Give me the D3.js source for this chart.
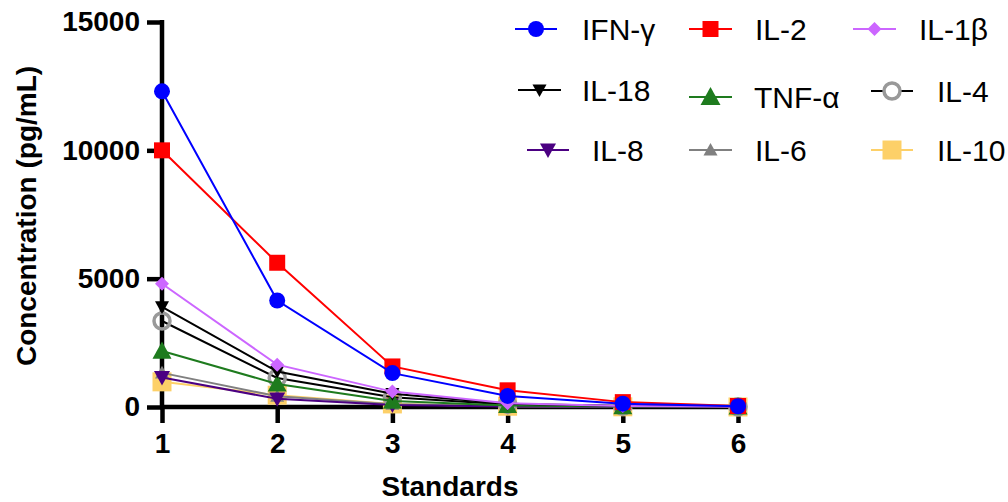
<!DOCTYPE html>
<html><head><meta charset="utf-8">
<script src="https://cdn.jsdelivr.net/npm/d3@7"></script>
<style>
html,body{margin:0;padding:0;background:#fff;}
svg{display:block;font-family:Arial,"Liberation Sans",sans-serif;}
</style></head>
<body><svg id="c" width="1008" height="502"></svg>
<script>
// ---- data ----
const standards = [1, 2, 3, 4, 5, 6];
const yTicks = [0, 5000, 10000, 15000];
const seriesNames = ["IFN-γ", "IL-2", "IL-1β", "IL-18", "TNF-α", "IL-4", "IL-8", "IL-6", "IL-10"];
const ifng = [12300, 4150, 1320, 430, 130, 30];
const il2  = [10000, 5620, 1580, 650, 190, 40];
const il1b = [4800, 1650, 600, 150, 40, 10];
const il18 = [3900, 1380, 520, 130, 35, 10];
const tnfa = [2180, 900, 230, 60, 15, 5];
const il4  = [3350, 1130, 380, 100, 25, 5];
const il8  = [1150, 320, 80, 20, 5, 1];
const il6  = [1330, 420, 110, 30, 8, 2];
const il10 = [980, 460, 120, 30, 8, 2];
const seriesValues = [ifng, il2, il1b, il18, tnfa, il4, il8, il6, il10];

// ---- styles ----
const styles = [
  {line:"#0000ff", shape:"circle", fill:"#0000ff", size:8},
  {line:"#ff0000", shape:"square", fill:"#ff0000", size:8},
  {line:"#cc66ff", shape:"diamond", fill:"#cc66ff", size:7},
  {line:"#000000", shape:"down", fill:"#000000", size:7},
  {line:"#1e7b1e", shape:"up", fill:"#1e7b1e", size:9.5},
  {line:"#000000", shape:"ocircle", fill:"none", stroke:"#999999", size:8},
  {line:"#4b0082", shape:"down", fill:"#4b0082", size:8},
  {line:"#808080", shape:"up", fill:"#808080", size:7},
  {line:"#fdd068", shape:"square", fill:"#fdd068", size:9.5}
];
// legend placement (layout)
const legendPos = [
  [515,557,29,582],[689,732,29,755],[853,896,29,919],
  [518,561,90,582],[689,732,97,754],[871,913,91,937],
  [527,569,150,592],[689,732,150,755],[871,913,150,937]
];

function markerPath(shape, s){
  switch(shape){
    case "circle": case "ocircle":
      return `M${-s},0A${s},${s} 0 1,0 ${s},0A${s},${s} 0 1,0 ${-s},0Z`;
    case "square": return `M${-s},${-s}H${s}V${s}H${-s}Z`;
    case "diamond": return `M0,${-s}L${s},0L0,${s}L${-s},0Z`;
    case "up": return `M0,${-s}L${s},${s*0.8}L${-s},${s*0.8}Z`;
    case "down": return `M0,${s}L${s},${-s*0.8}L${-s},${-s*0.8}Z`;
  }
}

const svg = d3.select("#c");
const x = d3.scaleLinear().domain([1, 6]).range([162, 738]);
const y = d3.scaleLinear().domain([0, 15000]).range([407, 22]);

// axes
const yAxis = d3.axisLeft(y).tickValues(yTicks).tickSize(15).tickSizeOuter(0).tickPadding(7).tickFormat(d3.format("d"));
const xAxis = d3.axisBottom(x).tickValues(standards).tickSize(16).tickSizeOuter(0).tickPadding(10).tickFormat(d3.format("d"));

const gx = svg.append("g").attr("transform", "translate(0,407)").call(xAxis);
const gy = svg.append("g").attr("transform", "translate(162,0)").call(yAxis);
[gx, gy].forEach(g => {
  g.select(".domain").attr("stroke", "#000").attr("stroke-width", 4.5);
  g.selectAll(".tick line").attr("stroke", "#000").attr("stroke-width", 4.5);
  g.selectAll(".tick text").attr("fill", "#000").attr("font-size", 28).attr("font-weight", "bold")
   .attr("font-family", "Arial, 'Liberation Sans', sans-serif");
});
gx.select(".domain").attr("d", "M160,0H745");
gy.select(".domain").attr("d", "M0,20V407");

// titles
svg.append("text").attr("x", 450).attr("y", 496).attr("text-anchor", "middle")
  .attr("font-size", 28).attr("font-weight", "bold").text("Standards");
svg.append("text").attr("transform", "translate(36,216) rotate(-90)").attr("text-anchor", "middle")
  .attr("font-size", 28).attr("font-weight", "bold").text("Concentration (pg/mL)");

// series: draw in reverse order so first is on top
const line = d3.line().x((d, i) => x(standards[i])).y(d => y(d));
const order = d3.range(seriesNames.length).reverse();
order.forEach(k => {
  const st = styles[k];
  const g = svg.append("g");
  g.append("path").attr("d", line(seriesValues[k])).attr("fill", "none")
    .attr("stroke", st.line).attr("stroke-width", 2);
  g.selectAll("path.m").data(seriesValues[k]).enter().append("path").attr("class", "m")
    .attr("transform", (d, i) => `translate(${x(standards[i])},${y(d)})`)
    .attr("d", markerPath(st.shape, st.size))
    .attr("fill", st.fill === "none" ? "none" : st.fill)
    .attr("stroke", st.stroke || "none").attr("stroke-width", st.stroke ? 3.5 : 0);
});

// legend
seriesNames.forEach((name, k) => {
  const st = styles[k];
  const [x1, x2, ly, tx] = legendPos[k];
  const g = svg.append("g");
  g.append("line").attr("x1", x1).attr("x2", x2).attr("y1", ly).attr("y2", ly)
    .attr("stroke", st.line).attr("stroke-width", 2);
  g.append("path").attr("transform", `translate(${(x1 + x2) / 2},${ly})`)
    .attr("d", markerPath(st.shape, st.shape === "up" && k === 4 ? 10 : st.size))
    .attr("fill", st.fill === "none" ? "#fff" : st.fill)
    .attr("stroke", st.stroke || "none").attr("stroke-width", st.stroke ? 3.5 : 0);
  g.append("text").attr("x", tx).attr("y", ly + 10.5).attr("font-size", 30).attr("fill", "#000").text(name);
});
</script></body></html>
